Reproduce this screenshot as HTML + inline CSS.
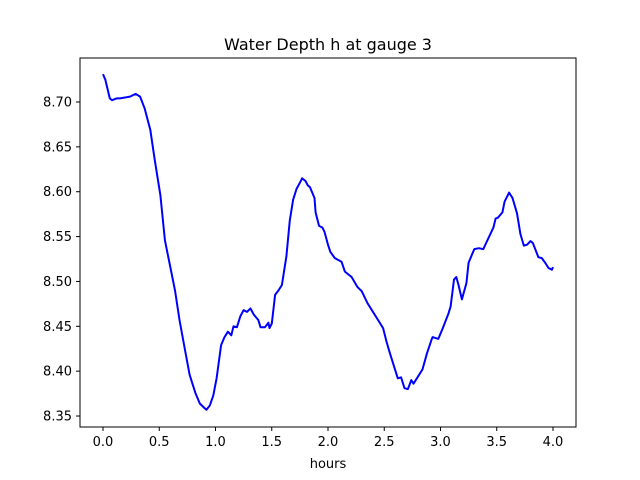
<!DOCTYPE html>
<html><head><meta charset="utf-8"><style>
body{margin:0;background:#fff;}
svg{display:block;font-family:"DejaVu Sans","Liberation Sans",sans-serif;}
</style></head><body>
<svg id="chart" width="640" height="480">
<rect width="640" height="480" fill="#fff"/>
<text x="328" y="50" font-size="16" text-anchor="middle">Water Depth h at gauge 3</text>
<g id="xt"></g><g id="yt"></g>
<path id="line" fill="none" stroke="#0000ff" stroke-width="2" stroke-linejoin="round"/>
<rect x="80" y="58" width="496" height="369" fill="none" stroke="#000" stroke-width="1"/>
<text x="328" y="468" font-size="13" text-anchor="middle">hours</text>
</svg>
<script>
const hours=[0.00,0.02,0.06,0.08,0.12,0.15,0.24,0.29,0.33,0.37,0.42,0.46,0.51,0.55,0.60,0.64,0.68,0.73,0.77,0.82,0.86,0.90,0.92,0.95,0.98,1.01,1.05,1.08,1.11,1.14,1.16,1.19,1.22,1.25,1.28,1.31,1.34,1.38,1.40,1.44,1.47,1.48,1.50,1.53,1.56,1.59,1.63,1.66,1.69,1.72,1.75,1.77,1.80,1.82,1.84,1.88,1.89,1.92,1.95,1.97,2.00,2.02,2.06,2.12,2.15,2.21,2.26,2.30,2.35,2.39,2.44,2.49,2.52,2.55,2.59,2.62,2.65,2.68,2.71,2.74,2.76,2.79,2.84,2.88,2.92,2.93,2.98,3.02,3.07,3.09,3.12,3.14,3.16,3.19,3.23,3.25,3.30,3.34,3.38,3.41,3.47,3.49,3.51,3.55,3.57,3.61,3.64,3.68,3.71,3.74,3.77,3.80,3.82,3.87,3.90,3.93,3.96,3.99,4.00];
const depth=[8.731,8.725,8.704,8.702,8.704,8.704,8.706,8.709,8.706,8.693,8.669,8.635,8.596,8.546,8.515,8.490,8.457,8.423,8.396,8.376,8.364,8.359,8.357,8.362,8.373,8.392,8.429,8.438,8.444,8.440,8.450,8.449,8.461,8.468,8.466,8.470,8.463,8.457,8.449,8.449,8.454,8.448,8.453,8.485,8.490,8.496,8.528,8.568,8.591,8.603,8.610,8.615,8.612,8.607,8.605,8.593,8.577,8.562,8.560,8.555,8.541,8.533,8.526,8.522,8.511,8.505,8.494,8.489,8.476,8.468,8.458,8.448,8.433,8.420,8.404,8.392,8.393,8.381,8.380,8.390,8.386,8.392,8.402,8.420,8.435,8.438,8.436,8.448,8.464,8.472,8.502,8.505,8.496,8.480,8.498,8.521,8.536,8.537,8.536,8.544,8.560,8.570,8.571,8.577,8.589,8.599,8.593,8.576,8.553,8.540,8.541,8.545,8.543,8.527,8.526,8.521,8.515,8.513,8.516];
const xTicks=[0,0.5,1,1.5,2,2.5,3,3.5,4];
const xTickLabels=["0.0","0.5","1.0","1.5","2.0","2.5","3.0","3.5","4.0"];
const yTicks=[8.35,8.40,8.45,8.50,8.55,8.60,8.65,8.70];
const yTickLabels=["8.35","8.40","8.45","8.50","8.55","8.60","8.65","8.70"];
const X=v=>103+v*112.5;
const Y=v=>102+(8.70-v)*897.2;
const NS="http://www.w3.org/2000/svg";
const xt=document.getElementById('xt'),yt=document.getElementById('yt');
xTicks.forEach((t,i)=>{
  const l=document.createElementNS(NS,'line');
  l.setAttribute('x1',X(t));l.setAttribute('x2',X(t));l.setAttribute('y1',427);l.setAttribute('y2',431);l.setAttribute('stroke','#000');
  
  
  xt.appendChild(l);
  const s=document.createElementNS(NS,'text');
  s.setAttribute('x',X(t));s.setAttribute('y',446);s.setAttribute('font-size','13');s.setAttribute('text-anchor','middle');
  s.textContent=xTickLabels[i];
  
  
  xt.appendChild(s);
});
yTicks.forEach((t,i)=>{
  const l=document.createElementNS(NS,'line');
  l.setAttribute('x1',76);l.setAttribute('x2',80);l.setAttribute('y1',Y(t));l.setAttribute('y2',Y(t));l.setAttribute('stroke','#000');
  
  
  yt.appendChild(l);
  const s=document.createElementNS(NS,'text');
  s.setAttribute('x',72);s.setAttribute('y',Y(t)+4.5);s.setAttribute('font-size','13');s.setAttribute('text-anchor','end');
  s.textContent=yTickLabels[i];
  
  
  yt.appendChild(s);
});
document.getElementById('line').setAttribute('d',hours.map((h,i)=>(i?'L':'M')+X(h).toFixed(1)+' '+Y(depth[i]).toFixed(1)).join(' '));
</script>
</body></html>
